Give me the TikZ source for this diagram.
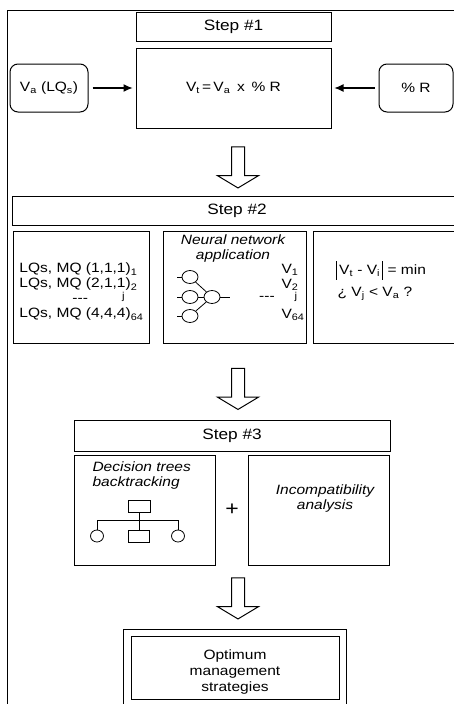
\documentclass[tikz,border=0pt]{standalone}
\usepackage{fontspec}
\setmainfont{Liberation Sans}[FakeStretch=1.15]
\usetikzlibrary{arrows.meta,shapes.geometric,shapes.arrows}

\newcommand{\diagfont}{\fontsize{13.5}{15}\selectfont}
\newcommand{\absbar}{\rule[-5pt]{0.9pt}{19pt}}
\newcommand{\idx}{\raisebox{3.5pt}{\fontsize{10}{10}\selectfont j}}

\begin{document}
\begin{tikzpicture}[x=1pt, y=-1pt, line width=1pt,
  every node/.style={font=\diagfont},
  box/.style={shape=rectangle, draw, inner sep=0pt},
  stepbox/.style={box, font=\fontsize{15}{16}\selectfont},
  input/.style={shape=rectangle, draw, rounded corners=8pt, minimum width=78pt, minimum height=48pt},
  note/.style={font=\diagfont\itshape, align=center, inner sep=0pt},
  hollow/.style={single arrow, draw, shape border rotate=270, minimum height=41pt, minimum width=40pt,
    inner sep=6pt, single arrow head extend=14pt, single arrow tip angle=118},
  neuron/.style={ellipse, draw, line width=0.8pt, minimum width=16pt, minimum height=13pt, inner sep=0pt},
  feed/.style={-{Latex[length=9pt,width=8pt]}, line width=1.1pt, shorten <=4pt, shorten >=3pt}]
\useasboundingbox (0,0) rectangle (454,704);
\draw (7,710) |- (462,10);

% step 1
\node [stepbox, minimum width=195pt, minimum height=29pt] (S1) at (233.5,26.5) {Step \#1};
\node [box, below of=S1, node distance=61.5pt, minimum width=195pt, minimum height=80pt] (F1) {V\textsubscript{t}\,=\,V\textsubscript{a}\enspace x\enspace \% R};
\node [input, left of=F1, node distance=184.5pt] (Va) {V\textsubscript{a} (LQ\textsubscript{s})};
\node [input, right of=F1, node distance=182.5pt, minimum width=74pt] (PR) {\% R};
\draw[feed] (Va) -- (F1);
\draw[feed] (PR) -- (F1);

\node [hollow] (A1) at (238,165.5) {};

% step 2
\node [stepbox, minimum width=450pt, minimum height=29pt] (S2) at (237,210.5) {Step \#2};
\node [box, minimum width=136pt, minimum height=112pt] (L2) at (81,287) {};
\node [box, minimum width=143pt, minimum height=112pt] (M2) at (234.5,287) {};
\node [box, minimum width=149pt, minimum height=112pt] (R2) at (387.5,287) {};

\node [align=left, anchor=west, inner sep=0pt] (list) at (19,292) {LQs, MQ (1,1,1)\textsubscript{1}\\
  LQs, MQ (2,1,1)\textsubscript{2}\\
  \hspace*{53pt}-{}-{}-\hspace*{34pt}\idx\\
  LQs, MQ (4,4,4)\textsubscript{64}};

\node [note] (nn) at (233,248.5) {Neural network\\application};
\node [align=left, anchor=west, inner sep=0pt] (vals) at (281,292) {V\textsubscript{1}\\V\textsubscript{2}\\\hspace*{13pt}\idx\\V\textsubscript{64}};
\node [inner sep=0pt] (dots) at (267,298) {-{}-{}-};

\node [neuron] (out) at (212,297) {};
\coordinate (outstub) at (230,297);
\draw[line width=0.8pt] (out) -- (outstub);
\foreach \i/\y in {1/277,2/297,3/316} {
  \node [neuron] (in\i) at (190,\y) {};
  \coordinate (stub\i) at (177,\y);
  \draw[line width=0.8pt] (stub\i) -- (in\i);
  \draw[line width=0.8pt] (in\i) -- (out);
}

\node [inner sep=0pt] (diff) at (381,270) {\absbar\,V\textsubscript{t} - V\textsubscript{i}\,\absbar{} = min};
\node [inner sep=0pt] (cond) at (375,294) {¿ V\textsubscript{j} < V\textsubscript{a} ?};

\node [hollow] (A2) at (238,387) {};

% step 3
\node [stepbox, minimum width=316pt, minimum height=31pt] (S3) at (232,435.5) {Step \#3};
\node [box, minimum width=141pt, minimum height=110pt] (DT) at (144.5,510) {};
\node [box, minimum width=141pt, minimum height=110pt] (IA) at (318.5,510) {};
\node [font=\fontsize{20}{20}\selectfont] (plus) at (232,510) {+};
\node [note, align=left, anchor=west] (dtt) at (92,475.5) {Decision trees\\backtracking};
\node [note] (iat) at (325,499) {Incompatibility\\analysis};

% small tree
\node [box, line width=0.8pt, minimum width=22pt, minimum height=12pt] (root) at (139,506) {};
\node [box, line width=0.8pt, minimum width=21pt, minimum height=12pt] (mid) at (139,536) {};
\node [neuron, minimum width=13pt, minimum height=12pt] (lft) at (97,536) {};
\node [neuron, minimum width=13pt, minimum height=12pt] (rgt) at (178,536) {};
\coordinate (fork) at (139,520);
\draw[line width=0.8pt] (root) -- (mid);
\draw[line width=0.8pt] (fork) -| (lft);
\draw[line width=0.8pt] (fork) -| (rgt);

\node [hollow] (A3) at (238,596.5) {};

% result
\node [box, minimum width=223pt, minimum height=77pt] (res) at (234.5,667.5) {};
\node [box, minimum width=208pt, minimum height=63pt] (OMS) at (235,667.5) {};
\node [align=center, inner sep=0pt, font=\fontsize{13.5}{16}\selectfont] (omt) at (235,672) {Optimum\\management\\strategies};
\end{tikzpicture}
\end{document}
